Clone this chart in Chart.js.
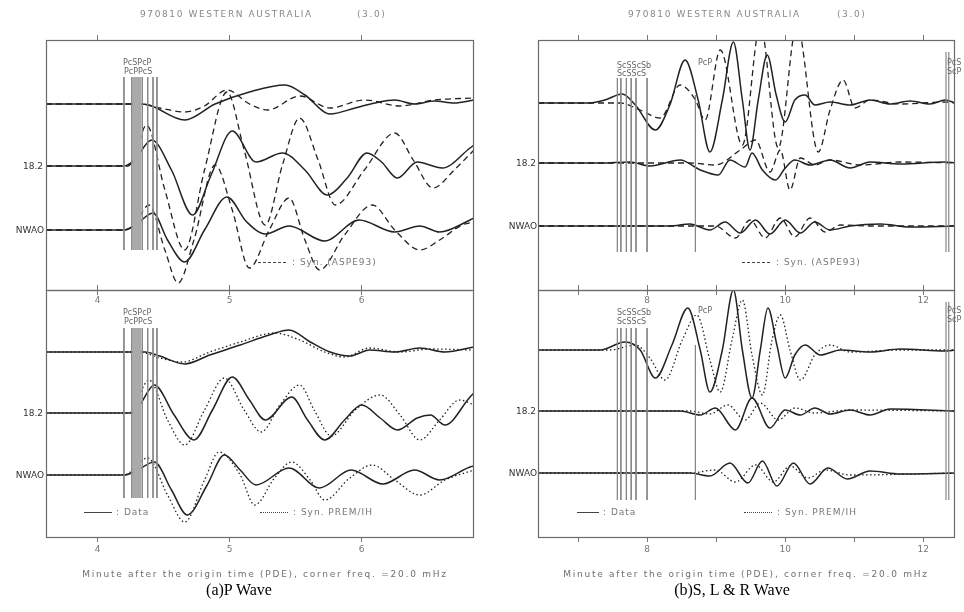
<!DOCTYPE html>
<html><head><meta charset="utf-8">
<script src="https://cdn.jsdelivr.net/npm/chart.js@4.4.1/dist/chart.umd.min.js"></script>
<style>
html,body{margin:0;padding:0;background:#fff;}
#wrap{position:relative;width:964px;height:612px;overflow:hidden;font-family:"DejaVu Sans",sans-serif;}
canvas{position:absolute;}
.t{position:absolute;white-space:nowrap;color:#777;font-size:9px;line-height:10px;letter-spacing:1px;}
.ti{position:absolute;white-space:nowrap;color:#888;font-size:9px;line-height:10px;letter-spacing:1.6px;}
.st{position:absolute;white-space:nowrap;color:#333;font-size:9px;line-height:10px;text-align:right;width:40px;}
.ph{position:absolute;white-space:nowrap;color:#666;font-size:8px;line-height:9px;}
.cap{position:absolute;white-space:nowrap;color:#000;font-family:"Liberation Serif","Times New Roman",serif;font-size:16px;line-height:18px;transform:translateX(-50%);}
.xl{position:absolute;white-space:nowrap;color:#6f6f6f;font-size:9px;line-height:10px;letter-spacing:1.75px;transform:translateX(-50%);}
.smp{position:absolute;height:0;width:28px;}
</style></head><body>
<div id="wrap">
<canvas id="lt" width="480" height="320" style="left:0;top:0;width:480px;height:320px"></canvas>
<canvas id="lb" width="480" height="342" style="left:0;top:270px;width:480px;height:342px"></canvas>
<canvas id="rt" width="484" height="320" style="left:480px;top:0;width:484px;height:320px"></canvas>
<canvas id="rb" width="484" height="342" style="left:480px;top:270px;width:484px;height:342px"></canvas>

<div class="ti" style="left:140px;top:9px">970810 WESTERN AUSTRALIA</div>
<div class="ti" style="left:357px;top:9px">(3.0)</div>
<div class="ti" style="left:628px;top:9px">970810 WESTERN AUSTRALIA</div>
<div class="ti" style="left:837px;top:9px">(3.0)</div>

<div class="st" style="left:3px;top:161px">18.2</div>
<div class="st" style="left:4px;top:225px">NWAO</div>
<div class="st" style="left:3px;top:408px">18.2</div>
<div class="st" style="left:4px;top:470px">NWAO</div>
<div class="st" style="left:496px;top:158px">18.2</div>
<div class="st" style="left:497px;top:221px">NWAO</div>
<div class="st" style="left:496px;top:406px">18.2</div>
<div class="st" style="left:497px;top:468px">NWAO</div>

<div class="ph" style="left:123px;top:58px">PcSPcP</div>
<div class="ph" style="left:124px;top:67px">PcPPcS</div>
<div class="ph" style="left:123px;top:308px">PcSPcP</div>
<div class="ph" style="left:124px;top:317px">PcPPcS</div>
<div class="ph" style="left:617px;top:61px">ScSScSb</div>
<div class="ph" style="left:617px;top:69px">ScSScS</div>
<div class="ph" style="left:698px;top:58px">PcP</div>
<div class="ph" style="left:947px;top:58px">PcS</div>
<div class="ph" style="left:947px;top:67px">ScP</div>
<div class="ph" style="left:617px;top:308px">ScSScSb</div>
<div class="ph" style="left:617px;top:317px">ScSScS</div>
<div class="ph" style="left:698px;top:306px">PcP</div>
<div class="ph" style="left:947px;top:306px">PcS</div>
<div class="ph" style="left:947px;top:315px">ScP</div>

<div class="smp" style="left:258px;top:262px;border-top:1.3px dashed #444"></div>
<div class="t" style="left:292px;top:257px">: Syn. (ASPE93)</div>
<div class="smp" style="left:742px;top:262px;border-top:1.3px dashed #444"></div>
<div class="t" style="left:776px;top:257px">: Syn. (ASPE93)</div>

<div class="smp" style="left:84px;top:512px;border-top:1.3px solid #444"></div>
<div class="t" style="left:116px;top:507px">: Data</div>
<div class="smp" style="left:260px;top:512px;border-top:1.3px dotted #444"></div>
<div class="t" style="left:293px;top:507px">: Syn. PREM/IH</div>
<div class="smp" style="left:577px;top:512px;border-top:1.3px solid #444;width:22px"></div>
<div class="t" style="left:603px;top:507px">: Data</div>
<div class="smp" style="left:744px;top:512px;border-top:1.3px dotted #444"></div>
<div class="t" style="left:777px;top:507px">: Syn. PREM/IH</div>

<div class="xl" style="left:265px;top:569px">Minute after the origin time (PDE), corner freq. =20.0 mHz</div>
<div class="xl" style="left:746px;top:569px">Minute after the origin time (PDE), corner freq. =20.0 mHz</div>
<div class="cap" style="left:239px;top:581px">(a)P Wave</div>
<div class="cap" style="left:732px;top:581px">(b)S, L &amp; R Wave</div>
</div>
<script>
// ---------- axis ticks (minutes after origin time) ----------
const leftTicks = [4, 5, 6];
const leftTickLabels = ['4', '5', '6'];
const rightTicks = [7, 8, 9, 10, 11, 12];
const rightTickLabels = ['', '8', '', '10', '', '12'];

// ---------- phase arrival markers (minutes) ----------
const leftPhaseTimes = [4.20, 4.26, 4.34, 4.38, 4.42, 4.45];
const leftBandTimes = [4.30];
const rightPhaseTimes = [7.57, 7.62, 7.70, 7.77, 7.84, 8.00];
const rightLateTimes = [8.70];
const rightEdgeTimes = [12.33, 12.37];

// ---------- (a) P wave, upper panel: Data vs Syn. (ASPE93) ----------
const ltData1 = [[3.61,0],[4.32,0],[4.39,-1],[4.66,-16],[4.89,0],[5.15,12],[5.42,19],[5.57,9],[5.76,-10],[5.95,-4],[6.10,1],[6.25,4],[6.40,0],[6.55,3],[6.70,1],[6.85,4]];
const ltSynA1 = [[3.61,0],[4.32,0],[4.47,-4],[4.66,-8],[4.81,-2],[4.98,14],[5.15,0],[5.29,-6],[5.53,8],[5.76,-4],[6.02,4],[6.29,-2],[6.55,4],[6.85,6]];
const ltData2 = [[3.61,0],[4.20,0],[4.28,6],[4.41,26],[4.56,-4],[4.72,-49],[4.86,-9],[5.02,35],[5.20,4],[5.40,13],[5.57,-4],[5.74,-29],[5.89,-12],[6.04,13],[6.15,4],[6.27,-12],[6.42,4],[6.61,-2],[6.82,18],[6.85,21]];
const ltSynA2 = [[3.61,0],[4.23,0],[4.28,8],[4.37,41],[4.51,-24],[4.66,-84],[4.81,-4],[4.98,74],[5.11,16],[5.27,-59],[5.40,1],[5.53,48],[5.67,6],[5.80,-39],[6.02,-4],[6.25,33],[6.39,6],[6.54,-22],[6.70,-4],[6.85,16]];
const ltData3 = [[3.61,0],[4.20,0],[4.28,4],[4.42,17],[4.53,-10],[4.66,-32],[4.81,0],[4.98,33],[5.13,8],[5.27,-4],[5.45,4],[5.72,-11],[5.98,10],[6.25,-2],[6.44,4],[6.59,-2],[6.82,10],[6.85,12]];
const ltSynA3 = [[3.61,0],[4.20,0],[4.28,6],[4.39,25],[4.51,-20],[4.61,-53],[4.73,-10],[4.89,65],[5.02,20],[5.15,-38],[5.30,0],[5.45,32],[5.57,-10],[5.68,-40],[5.87,-5],[6.08,25],[6.25,0],[6.44,-20],[6.59,-10],[6.76,5],[6.85,8]];

// ---------- (a) P wave, lower panel: Data vs Syn. PREM/IH ----------
const lbData1 = [[3.61,0],[4.36,0],[4.47,-4],[4.66,-12],[4.85,-3],[5.08,7],[5.30,17],[5.45,22],[5.61,10],[5.76,0],[5.91,-4],[6.06,2],[6.25,0],[6.44,4],[6.63,0],[6.85,5]];
const lbSynP1 = [[3.61,0],[4.32,0],[4.47,-6],[4.64,-10],[4.85,0],[5.08,10],[5.34,19],[5.53,12],[5.72,0],[5.87,-5],[6.06,4],[6.29,0],[6.52,3],[6.85,2]];
const lbData2 = [[3.61,0],[4.26,0],[4.32,8],[4.43,28],[4.58,-2],[4.73,-27],[4.87,3],[5.02,36],[5.15,13],[5.27,-7],[5.47,16],[5.59,-7],[5.72,-27],[5.87,-7],[6.00,8],[6.14,-5],[6.27,-17],[6.42,-5],[6.52,-2],[6.63,-12],[6.82,16],[6.85,20]];
const lbSynP2 = [[3.61,0],[4.24,0],[4.39,33],[4.53,-7],[4.66,-32],[4.81,3],[4.96,35],[5.11,3],[5.24,-19],[5.38,8],[5.53,28],[5.64,3],[5.77,-23],[5.95,3],[6.14,18],[6.29,-2],[6.44,-27],[6.59,-7],[6.74,13],[6.85,8]];
const lbData3 = [[3.61,0],[4.20,0],[4.28,3],[4.43,13],[4.56,-15],[4.68,-40],[4.83,-10],[4.96,20],[5.08,5],[5.20,-10],[5.45,7],[5.68,-13],[5.92,5],[6.16,-9],[6.40,5],[6.59,-5],[6.82,8],[6.85,9]];
const lbSynP3 = [[3.61,0],[4.20,0],[4.38,17],[4.53,-20],[4.66,-47],[4.81,-5],[4.92,23],[5.08,0],[5.19,-30],[5.34,-3],[5.47,13],[5.61,-5],[5.72,-25],[5.91,-3],[6.08,10],[6.25,-5],[6.44,-20],[6.63,-5],[6.85,5]];

// ---------- (b) S, L & R wave, upper panel: Data vs Syn. (ASPE93) ----------
const rtData1 = [[6.42,0],[7.17,0],[7.39,3],[7.64,9],[7.83,-2],[8.12,-27],[8.33,-2],[8.55,43],[8.74,3],[8.91,-49],[9.09,3],[9.25,61],[9.38,3],[9.49,-47],[9.61,3],[9.74,48],[9.87,8],[10.00,-19],[10.14,3],[10.29,8],[10.43,-2],[10.65,1],[10.94,-2],[11.23,3],[11.52,-1],[11.81,2],[12.10,-1],[12.32,3],[12.46,0]];
const rtSynA1 = [[6.42,0],[7.61,0],[7.90,-7],[8.19,-15],[8.48,18],[8.70,3],[8.84,-17],[9.06,53],[9.38,-42],[9.64,78],[9.90,-45],[10.17,78],[10.48,-49],[10.65,-7],[10.84,23],[11.01,-5],[11.23,3],[11.67,-1],[12.32,1],[12.46,0]];
const rtData2 = [[6.42,0],[7.32,0],[7.75,1],[8.04,-3],[8.48,3],[8.77,-7],[9.03,-12],[9.20,3],[9.42,-4],[9.52,10],[9.67,-7],[9.86,-17],[10.00,-5],[10.14,3],[10.36,-2],[10.65,3],[10.94,-5],[11.23,1],[11.67,-1],[12.32,1],[12.46,0]];
const rtSynA2 = [[6.42,0],[8.62,0],[8.99,-2],[9.35,13],[9.57,23],[9.78,-9],[9.93,13],[10.07,-27],[10.22,5],[10.43,-2],[10.65,3],[11.09,-2],[11.67,1],[12.46,0]];
const rtData3 = [[6.42,0],[8.33,0],[8.62,2],[8.91,-4],[9.13,4],[9.35,-7],[9.57,6],[9.78,-8],[10.00,6],[10.22,-7],[10.43,4],[10.65,-4],[10.94,0],[11.38,2],[11.81,-1],[12.46,0]];
const rtSynA3 = [[6.42,0],[8.62,0],[8.99,0],[9.28,-12],[9.49,6],[9.71,-12],[9.93,8],[10.14,-11],[10.36,8],[10.58,-6],[10.80,1],[11.23,0],[12.46,0]];

// ---------- (b) S, L & R wave, lower panel: Data vs Syn. PREM/IH ----------
const rbData1 = [[6.42,0],[7.32,0],[7.68,8],[7.90,0],[8.12,-28],[8.36,5],[8.59,42],[8.77,0],[8.91,-42],[9.09,0],[9.25,60],[9.38,0],[9.52,-48],[9.64,0],[9.75,42],[9.88,5],[10.00,-28],[10.14,-5],[10.29,5],[10.51,-5],[10.80,0],[11.23,-2],[11.67,1],[12.32,-1],[12.46,0]];
const rbSynP1 = [[6.42,0],[7.46,0],[7.83,5],[8.04,-8],[8.26,-30],[8.51,10],[8.72,35],[8.91,-10],[9.06,-42],[9.23,10],[9.38,50],[9.52,-5],[9.67,-45],[9.81,10],[9.93,35],[10.07,0],[10.22,-30],[10.43,-5],[10.65,5],[10.94,-2],[11.67,0],[12.46,0]];
const rbData2 = [[6.42,0],[8.48,0],[8.77,-4],[8.99,3],[9.28,-19],[9.52,13],[9.78,-17],[10.00,1],[10.22,-4],[10.43,3],[10.65,-3],[10.94,1],[11.23,-4],[11.52,2],[12.46,0]];
const rbSynP2 = [[6.42,0],[8.62,0],[8.91,-3],[9.17,6],[9.42,-9],[9.64,8],[9.90,-9],[10.14,3],[10.43,-2],[10.94,1],[12.46,0]];
const rbData3 = [[6.42,0],[8.62,0],[8.91,-3],[9.20,10],[9.46,-10],[9.67,12],[9.88,-13],[10.12,10],[10.36,-11],[10.62,5],[10.90,-6],[11.23,2],[11.67,-1],[12.46,0]];
const rbSynP3 = [[6.42,0],[8.62,0],[8.99,3],[9.28,-9],[9.57,8],[9.83,-9],[10.07,7],[10.33,-5],[10.58,3],[10.94,-2],[12.46,0]];

Chart.defaults.font.family = '"DejaVu Sans", sans-serif';
Chart.defaults.animation = false;

const framePlugin = {
  id: 'frame',
  afterDatasetsDraw(chart) {
    const { ctx, chartArea: a } = chart;
    ctx.save();
    ctx.strokeStyle = '#6a6a6a';
    ctx.lineWidth = 1.2;
    ctx.strokeRect(Math.round(a.left) + 0.5, Math.round(a.top) + 0.5, Math.round(a.width) - 1, Math.round(a.height));
    ctx.restore();
  }
};

const DASH = [6, 4], DOT = [1.5, 2.5];

function panel(id, o) {
  const ds = [];
  o.markers.forEach(m => m.times.forEach(t => ds.push({
    data: [{ x: t, y: -m.from }, { x: t, y: -m.to }],
    borderColor: m.color, borderWidth: m.width, pointRadius: 0, tension: 0
  })));
  o.traces.forEach(tr => ds.push({
    data: tr.values.map(([t, a]) => ({ x: t, y: a - tr.offset })),
    borderColor: '#222', borderWidth: tr.dash ? 1.3 : 1.5, borderDash: tr.dash || [],
    cubicInterpolationMode: 'monotone', pointRadius: 0, fill: false
  }));
  const tickFn = s => { s.ticks = o.ticks.map(v => ({ value: v })); };
  return new Chart(document.getElementById(id), {
    type: 'line',
    data: { datasets: ds },
    plugins: [framePlugin],
    options: {
      responsive: false, animation: false,
      layout: { padding: o.padding },
      plugins: { legend: { display: false }, tooltip: { enabled: false } },
      scales: {
        x: {
          type: 'linear', position: 'bottom', min: o.xmin, max: o.xmax,
          afterBuildTicks: tickFn,
          afterFit: s => { s.height = o.axisH; },
          border: { display: false },
          grid: { drawOnChartArea: false, drawTicks: true, tickLength: 5, color: '#777' },
          ticks: { color: '#777', font: { size: 9 }, padding: o.tickPad, maxRotation: 0,
                   callback: (v) => o.labels[o.ticks.indexOf(v)] }
        },
        xTop: {
          type: 'linear', position: 'top', min: o.xmin, max: o.xmax,
          afterBuildTicks: tickFn,
          afterFit: s => { s.height = 0; },
          border: { display: false },
          grid: { drawOnChartArea: false, drawTicks: true, tickLength: 5, color: '#777' },
          ticks: { display: false }
        },
        y: { display: false, min: -o.height, max: 0 }
      }
    }
  });
}

const leftMarkersTop = [
  { times: leftBandTimes, from: 37, to: 210, color: '#aaaaaa', width: 9 },
  { times: leftPhaseTimes, from: 37, to: 210, color: '#888888', width: 1 }
];
const leftMarkersBot = [
  { times: leftBandTimes, from: 38, to: 208, color: '#aaaaaa', width: 9 },
  { times: leftPhaseTimes, from: 38, to: 208, color: '#888888', width: 1 }
];
const rightMarkersTop = [
  { times: rightPhaseTimes, from: 38, to: 212, color: '#888888', width: 1 },
  { times: rightLateTimes, from: 55, to: 212, color: '#888888', width: 1 },
  { times: rightEdgeTimes, from: 12, to: 212, color: '#888888', width: 1.2 }
];
const rightMarkersBot = [
  { times: rightPhaseTimes, from: 38, to: 210, color: '#888888', width: 1 },
  { times: rightLateTimes, from: 55, to: 210, color: '#888888', width: 1 },
  { times: rightEdgeTimes, from: 12, to: 210, color: '#888888', width: 1.2 }
];

panel('lt', {
  xmin: 3.61, xmax: 6.85, ticks: leftTicks, labels: leftTickLabels,
  padding: { left: 46, right: 6, top: 40, bottom: 0 }, axisH: 30, tickPad: 0, height: 250,
  markers: leftMarkersTop,
  traces: [
    { values: ltData1, offset: 64 }, { values: ltSynA1, offset: 64, dash: DASH },
    { values: ltData2, offset: 126 }, { values: ltSynA2, offset: 126, dash: DASH },
    { values: ltData3, offset: 190 }, { values: ltSynA3, offset: 190, dash: DASH }
  ]
});
panel('lb', {
  xmin: 3.61, xmax: 6.85, ticks: leftTicks, labels: leftTickLabels,
  padding: { left: 46, right: 6, top: 20, bottom: 55 }, axisH: 20, tickPad: 2, height: 247,
  markers: leftMarkersBot,
  traces: [
    { values: lbData1, offset: 62 }, { values: lbSynP1, offset: 62, dash: DOT },
    { values: lbData2, offset: 123 }, { values: lbSynP2, offset: 123, dash: DOT },
    { values: lbData3, offset: 185 }, { values: lbSynP3, offset: 185, dash: DOT }
  ]
});
panel('rt', {
  xmin: 6.42, xmax: 12.46, ticks: rightTicks, labels: rightTickLabels,
  padding: { left: 58, right: 9, top: 40, bottom: 0 }, axisH: 30, tickPad: 0, height: 250,
  markers: rightMarkersTop,
  traces: [
    { values: rtData1, offset: 63 }, { values: rtSynA1, offset: 63, dash: DASH },
    { values: rtData2, offset: 123 }, { values: rtSynA2, offset: 123, dash: DASH },
    { values: rtData3, offset: 186 }, { values: rtSynA3, offset: 186, dash: DASH }
  ]
});
panel('rb', {
  xmin: 6.42, xmax: 12.46, ticks: rightTicks, labels: rightTickLabels,
  padding: { left: 58, right: 9, top: 20, bottom: 55 }, axisH: 20, tickPad: 2, height: 247,
  markers: rightMarkersBot,
  traces: [
    { values: rbData1, offset: 60 }, { values: rbSynP1, offset: 60, dash: DOT },
    { values: rbData2, offset: 121 }, { values: rbSynP2, offset: 121, dash: DOT },
    { values: rbData3, offset: 183 }, { values: rbSynP3, offset: 183, dash: DOT }
  ]
});
</script>
</body></html>
